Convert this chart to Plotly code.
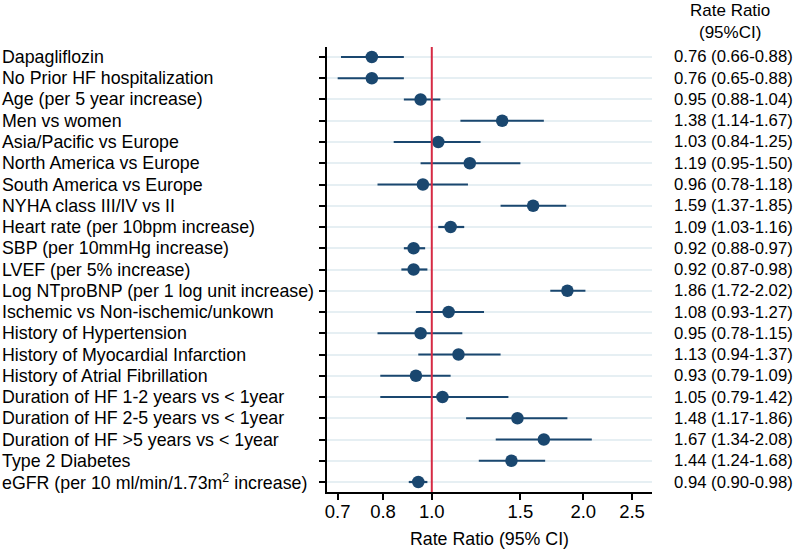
import plotly.graph_objects as go

labels = [
    "Dapagliflozin",
    "No Prior HF hospitalization",
    "Age (per 5 year increase)",
    "Men vs women",
    "Asia/Pacific vs Europe",
    "North America vs Europe",
    "South America vs Europe",
    "NYHA class III/IV vs II",
    "Heart rate (per 10bpm increase)",
    "SBP (per 10mmHg increase)",
    "LVEF (per 5% increase)",
    "Log NTproBNP (per 1 log unit increase)",
    "Ischemic vs Non-ischemic/unkown",
    "History of Hypertension",
    "History of Myocardial Infarction",
    "History of Atrial Fibrillation",
    "Duration of HF 1-2 years vs < 1year",
    "Duration of HF 2-5 years vs < 1year",
    "Duration of HF >5 years vs < 1year",
    "Type 2 Diabetes",
    "eGFR (per 10 ml/min/1.73m<sup>2</sup> increase)",
]
rr = [0.76, 0.76, 0.95, 1.38, 1.03, 1.19, 0.96, 1.59, 1.09, 0.92, 0.92, 1.86,
      1.08, 0.95, 1.13, 0.93, 1.05, 1.48, 1.67, 1.44, 0.94]
lo = [0.66, 0.65, 0.88, 1.14, 0.84, 0.95, 0.78, 1.37, 1.03, 0.88, 0.87, 1.72,
      0.93, 0.78, 0.94, 0.79, 0.79, 1.17, 1.34, 1.24, 0.90]
hi = [0.88, 0.88, 1.04, 1.67, 1.25, 1.50, 1.18, 1.85, 1.16, 0.97, 0.98, 2.02,
      1.27, 1.15, 1.37, 1.09, 1.42, 1.86, 2.08, 1.68, 0.98]
tick_vals = [0.65, 0.8, 1.0, 1.5, 2.0, 2.5]
tick_text = ["0.7", "0.8", "1.0", "1.5", "2.0", "2.5"]

NAVY = "#1a476f"
RED = "#d62a44"
FONT = "Liberation Sans, Arial, sans-serif"

rows = list(range(len(labels)))

fig = go.Figure()
# CI lines
for i in rows:
    fig.add_trace(go.Scatter(x=[lo[i], hi[i]], y=[i, i], mode="lines",
                             line=dict(color=NAVY, width=2.2), showlegend=False,
                             hoverinfo="skip"))
fig.add_trace(go.Scatter(x=rr, y=rows, mode="markers",
                         marker=dict(color=NAVY, size=12.5), showlegend=False))

fig.add_shape(type="line", x0=1, x1=1, xref="x", y0=0, y1=1, yref="paper",
              line=dict(color=RED, width=2))

L, R, T, B = 327, 148, 47, 57
W, H = 800, 549
pw = W - L - R

def px_to_paper(px):
    return (px - L) / pw

for i in rows:
    fig.add_annotation(x=px_to_paper(0), xref="paper", y=i, yref="y",
                       text=labels[i], showarrow=False, xanchor="left",
                       yanchor="middle", font=dict(size=17.8, color="black", family=FONT))
    fig.add_annotation(x=px_to_paper(672), xref="paper", y=i, yref="y",
                       text=f"{rr[i]:.2f} ({lo[i]:.2f}-{hi[i]:.2f})", showarrow=False,
                       xanchor="left", yanchor="middle",
                       font=dict(size=16.7, color="black", family=FONT))

fig.add_annotation(x=px_to_paper(730), xref="paper", y=1, yref="paper", yshift=26,
                   text="Rate Ratio<br>(95%CI)", showarrow=False, xanchor="center",
                   yanchor="middle", font=dict(size=17, color="black", family=FONT))

fig.update_xaxes(type="log", range=[-0.2083, 0.4377], tickvals=tick_vals,
                 ticktext=tick_text, ticks="outside", ticklen=6, tickwidth=1.5,
                 tickcolor="black", showline=True, linecolor="black", linewidth=1.5,
                 showgrid=False, zeroline=False, automargin=False,
                 ticklabelstandoff=-4,
                 tickfont=dict(size=18.5, color="black", family=FONT),
                 title=dict(text="Rate Ratio (95% CI)", standoff=19,
                            font=dict(size=17.8, color="black", family=FONT)))
fig.update_yaxes(range=[20.47, -0.47], tickvals=rows, showticklabels=False,
                 ticks="outside", ticklen=6, tickwidth=1.5, tickcolor="black",
                 showline=True, linecolor="black", linewidth=1.5, automargin=False,
                 showgrid=True, gridcolor="#e6eff3", gridwidth=1.5, zeroline=False)

fig.update_layout(width=W, height=H, margin=dict(l=L, r=R, t=T, b=B),
                  paper_bgcolor="white", plot_bgcolor="white",
                  font=dict(family=FONT, color="black"))

fig.write_html("out.html", config={"displayModeBar": False},
               post_script="document.body.style.margin='0';")
